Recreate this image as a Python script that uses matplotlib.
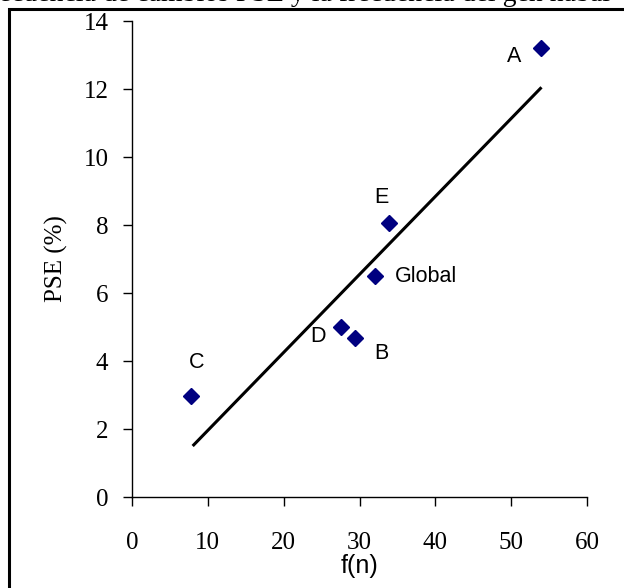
#!/usr/bin/env python3
"""PSE (%) vs f(n) scatter with trend line."""
import matplotlib
matplotlib.use("Agg")
import matplotlib.pyplot as plt
from matplotlib.patches import Rectangle

# data
labels = ["A", "E", "Global", "D", "B", "C"]
fn = [53.9, 33.9, 32.1, 27.5, 29.4, 7.8]
pse = [13.2, 8.07, 6.5, 5.0, 4.68, 2.96]

trend_x = [8.0, 54.0]
trend_y = [1.5, 12.05]

x_ticks = [0, 10, 20, 30, 40, 50, 60]
y_ticks = [0, 2, 4, 6, 8, 10, 12, 14]

title = "Frecuencia de cambios PSE y la frecuencia del gen nabal"

# label offsets in pixels (dx, dy, ha)
offsets = {
    "A": (-27, -8, "center"),
    "E": (-8, 25, "center"),
    "Global": (19, -1, "left"),
    "D": (-23, -10, "center"),
    "B": (26, -16, "center"),
    "C": (5, 34, "center"),
}

SERIF = "Liberation Serif"
SANS = "Liberation Sans"

fig = plt.figure(figsize=(6.24, 5.88), dpi=100)
ax = fig.add_axes([132 / 624, 1 - 497 / 588, 455 / 624, 476 / 588])

ax.plot(trend_x, trend_y, color="black", lw=2.2, solid_capstyle="butt", zorder=2)
ax.plot(fn, pse, ls="none", marker="D", ms=8, color="#000080", zorder=3)

for lab, x, y in zip(labels, fn, pse):
    dx, dy, ha = offsets[lab]
    ax.annotate(lab, (x, y), xytext=(dx, dy), textcoords="offset pixels",
                ha=ha, va="center", fontsize=15.5, family=SANS)

ax.set_xlim(0, 60)
ax.set_ylim(0, 14)
ax.set_xticks(x_ticks)
ax.set_yticks(y_ticks)
for s in ("top", "right"):
    ax.spines[s].set_visible(False)
for s in ("left", "bottom"):
    ax.spines[s].set_linewidth(1.0)
ax.tick_params(direction="out", length=6.5, width=1.0, labelsize=18)
ax.tick_params(axis="y", pad=10.5)
ax.tick_params(axis="x", pad=19)
for t in ax.get_xticklabels() + ax.get_yticklabels():
    t.set_family(SERIF)

ax.set_xlabel("f(n)", family=SANS, fontsize=18, labelpad=0)
ax.set_ylabel("PSE (%)", family=SERIF, fontsize=18, labelpad=11)

# outer frame (right and bottom fall off the canvas)
fig.patches.append(Rectangle((8.5 / 624, -0.2), 1.5, 1.2 - 8.5 / 588,
                             transform=fig.transFigure, fill=False,
                             lw=2.2, ec="black"))
fig.text(-26 / 624, 1 - 1 / 588, title, family=SERIF, fontsize=20,
         ha="left", va="baseline")

fig.savefig("out.png", dpi=100)
